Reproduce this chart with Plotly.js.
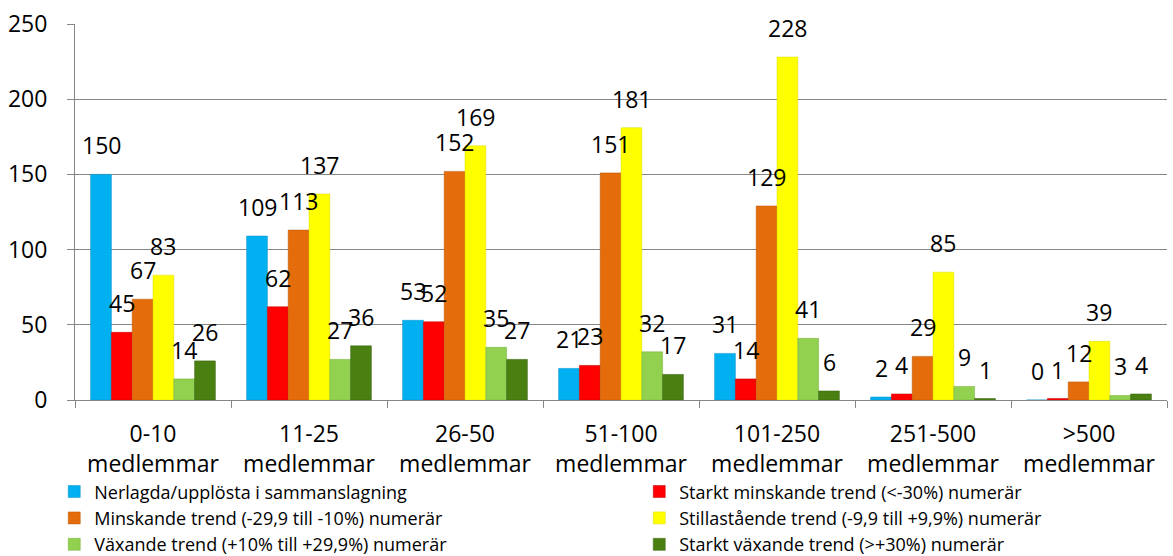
<!DOCTYPE html>
<html>
<head>
<meta charset="utf-8">
<script src="https://cdn.plot.ly/plotly-3.0.1.min.js"></script>
<style>
  html, body { margin: 0; padding: 0; background: #fff; }
  #chart { width: 1173px; height: 556px; }
</style>
</head>
<body>
<div id="chart"></div>
<script>
// member-size groups x trend categories, counts of associations
const categories = [
    '0-10<br>medlemmar', '11-25<br>medlemmar', '26-50<br>medlemmar',
    '51-100<br>medlemmar', '101-250<br>medlemmar', '251-500<br>medlemmar',
    '>500<br>medlemmar'
];

const seriesNames = [
    'Nerlagda/upplösta i sammanslagning',
    'Starkt minskande trend (<-30%) numerär',
    'Minskande trend (-29,9 till -10%) numerär',
    'Stillastående trend (-9,9 till +9,9%) numerär',
    'Växande trend (+10% till +29,9%) numerär',
    'Starkt växande trend (>+30%) numerär'
];

const nerlagda      = [150, 109, 53, 21, 31, 2, 0];
const starktMinsk   = [45, 62, 52, 23, 14, 4, 1];
const minskande     = [67, 113, 152, 151, 129, 29, 12];
const stillastaende = [83, 137, 169, 181, 228, 85, 39];
const vaxande       = [14, 27, 35, 32, 41, 9, 3];
const starktVax     = [26, 36, 27, 17, 6, 1, 4];

const seriesValues = [nerlagda, starktMinsk, minskande, stillastaende, vaxande, starktVax];
const colors = ['#00B0F0', '#FF0000', '#E46C0A', '#FFFF00', '#92D050', '#4A8012'];
const edges  = ['#0090C8', '#C00000', '#B85608', '#D8D800', '#74AE38', '#36600C'];

const FONT = '"Open Sans", Lato, sans-serif';
const W = 1173, H = 556;
const M = { l: 75, r: 6, t: 24, b: 156 };
const BARGAP = 0.2;

const traces = seriesValues.map((vals, i) => ({
    type: 'bar',
    name: seriesNames[i],
    x: categories,
    y: vals,
    marker: { color: colors[i], line: { color: edges[i], width: 0.5 } },
    hoverinfo: 'name+y',
}));

// value labels sit a bit higher above the bars than plotly's own outside text
const catW = (W - M.l - M.r) / categories.length;
const barW = catW * (1 - BARGAP) / seriesValues.length;
const annotations = [];
seriesValues.forEach((vals, i) => {
    vals.forEach((v, j) => {
        annotations.push({
            x: categories[j], y: v, xref: 'x', yref: 'y',
            xshift: (i - (seriesValues.length - 1) / 2) * barW,
            yshift: 11,
            yanchor: 'bottom', xanchor: 'center',
            text: String(v), showarrow: false,
            font: { family: FONT, size: 23, color: '#000' },
        });
    });
});

const layout = {
    width: W, height: H,
    paper_bgcolor: '#fff', plot_bgcolor: '#fff',
    font: { family: FONT, color: '#000' },
    margin: { ...M, autoexpand: false },
    barmode: 'group',
    bargap: BARGAP,
    bargroupgap: 0,
    showlegend: true,
    annotations,
    xaxis: {
        type: 'category',
        showline: true, linecolor: '#868686', linewidth: 1,
        ticks: 'outside', tickson: 'boundaries', ticklen: 7, tickcolor: '#868686',
        tickfont: { family: FONT, size: 23 },
        ticklabelstandoff: 13,
        showgrid: false,
    },
    yaxis: {
        range: [0, 250], dtick: 50,
        showline: true, linecolor: '#868686', linewidth: 1,
        ticks: 'outside', ticklen: 7, tickcolor: '#868686',
        gridcolor: '#868686', gridwidth: 1,
        tickfont: { family: FONT, size: 23 },
        ticklabelstandoff: 15,
        zeroline: false,
    },
    legend: {
        orientation: 'h',
        x: -0.019, xanchor: 'left',
        y: -0.195, yanchor: 'top',
        entrywidth: 540,
        itemwidth: 30,
        font: { family: FONT, size: 18 },
        traceorder: 'normal',
        bgcolor: 'rgba(0,0,0,0)',
    },
};

Plotly.newPlot('chart', traces, layout, { displayModeBar: false, staticPlot: true });
</script>
</body>
</html>
